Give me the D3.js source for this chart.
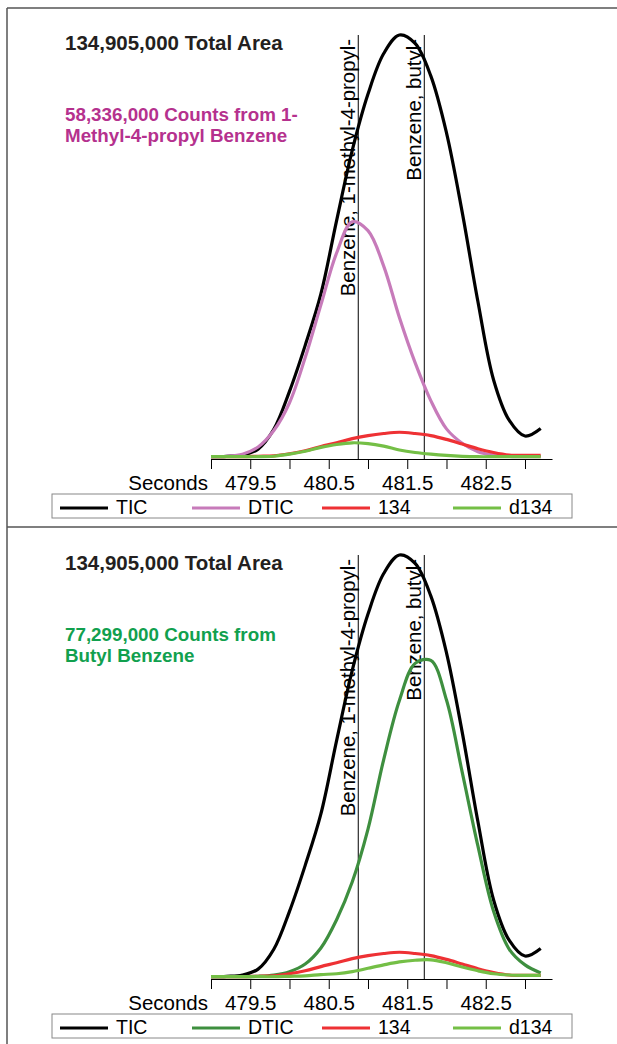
<!DOCTYPE html>
<html>
<head>
<meta charset="utf-8">
<script src="https://cdn.jsdelivr.net/npm/d3@7"></script>
<style>
  body { margin: 0; background: #fff; }
  text { font-family: "Liberation Sans", Arial, sans-serif; }
</style>
</head>
<body>
<script>
// retention time (seconds) of every sample
var times = [479.0, 479.2, 479.4, 479.6, 479.8, 480.0, 480.2, 480.4, 480.6, 480.8, 481.0,
             481.2, 481.4, 481.6, 481.8, 482.0, 482.2, 482.4, 482.6, 482.8, 483.0, 483.2];

// intensities, % of TIC maximum
var tic = [0, 0.1, 0.4, 1.8, 6.5, 15.5, 26.4, 38.6, 56, 72.7, 86,
           95.6, 100, 98, 90.3, 76.8, 58, 36.8, 18.2, 8.6, 4.9, 6.7];
var dticPropyl = [0, 0.1, 0.6, 2.3, 6.2, 12.8, 23.5, 36, 48.3, 55.7, 53.6,
                  45.2, 33, 22.3, 13.3, 6.6, 3.2, 1.2, 0.4, 0.1, 0, 0];
var dticButyl = [0, 0, 0, 0.1, 0.4, 1.2, 3.0, 6.8, 13.5, 22.5, 35,
                 51.5, 65.5, 74.3, 75, 65.6, 48.5, 31, 15.5, 6.5, 2.8, 0.9];
var ion134 = [0, 0, 0, 0.1, 0.2, 0.7, 1.4, 2.4, 3.3, 4.3, 5.0,
              5.5, 5.8, 5.5, 5.0, 4.1, 3.0, 1.9, 1.0, 0.4, 0.3, 0.3];
var d134Propyl = [0, 0, 0, 0, 0.1, 0.6, 1.3, 2.2, 2.9, 3.3, 3.1,
                  2.5, 1.6, 1.0, 0.6, 0.3, 0.1, 0, 0, 0, 0, 0];
var d134Butyl = [0, 0, 0, 0, 0, 0.1, 0.2, 0.5, 0.7, 1.2, 2.0,
                 2.8, 3.5, 3.9, 4.0, 3.3, 2.3, 1.4, 0.7, 0.4, 0.3, 0.3];

// peak markers
var peakNames = ["Benzene, 1-methyl-4-propyl-", "Benzene, butyl-"];
var peakTimes = [480.876, 481.717];

var tickValues = [479.0, 479.5, 480.0, 480.5, 481.0, 481.5, 482.0, 482.5, 483.0];
var legendNames = ["TIC", "DTIC", "134", "d134"];

var totalLabel = "134,905,000 Total Area";
var panels = [
  { note: ["58,336,000 Counts from 1-", "Methyl-4-propyl Benzene"], noteColor: "#b5318e",
    dtic: dticPropyl, d134: d134Propyl, dticColor: "#c77bba" },
  { note: ["77,299,000 Counts from", "Butyl Benzene"], noteColor: "#11a04e",
    dtic: dticButyl, d134: d134Butyl, dticColor: "#3e8f3f" }
];

var w = 617, h = 1044;
var svg = d3.select("body").append("svg")
  .attr("width", w)
  .attr("height", h);

var x = d3.scaleLinear().domain([479, 483.344]).range([211, 552]);

// frame lines
svg.append("line").attr("x1", 7).attr("x2", w).attr("y1", 8).attr("y2", 8)
  .attr("stroke", "#555").attr("stroke-width", 1.5);
svg.append("line").attr("x1", 7).attr("x2", 7).attr("y1", 8).attr("y2", h)
  .attr("stroke", "#555").attr("stroke-width", 1.5);
svg.append("line").attr("x1", 7).attr("x2", w).attr("y1", 527).attr("y2", 527)
  .attr("stroke", "#555").attr("stroke-width", 1.5);

panels.forEach(function(p, k) {
  var off = k * 520;
  var g = svg.append("g");

  var y = d3.scaleLinear().domain([0, 100]).range([456.7 + off, 35 + off]);

  g.append("text")
    .attr("x", 65).attr("y", 50 + off)
    .attr("font-size", 20.5).attr("font-weight", "bold").attr("fill", "#231f20")
    .text(totalLabel);

  p.note.forEach(function(s, i) {
    g.append("text")
      .attr("x", 65).attr("y", 121 + off + i * 21)
      .attr("font-size", 18.8).attr("font-weight", "bold").attr("fill", p.noteColor)
      .text(s);
  });

  // peak lines and names
  peakTimes.forEach(function(t, i) {
    g.append("line")
      .attr("x1", x(t)).attr("x2", x(t))
      .attr("y1", 35 + off).attr("y2", 459 + off)
      .attr("stroke", "#000").attr("stroke-width", 1);
    g.append("text")
      .attr("transform", "translate(" + (x(t) - 3.5) + "," + (39 + off) + ") rotate(-90)")
      .attr("text-anchor", "end")
      .attr("font-size", 20.4)
      .attr("fill", "#000")
      .text(peakNames[i]);
  });

  var series = [
    { v: tic, c: "#000" },
    { v: p.dtic, c: p.dticColor },
    { v: ion134, c: "#ee3134" },
    { v: p.d134, c: "#74bf46" }
  ];

  var line = d3.line()
    .x(function(d, i) { return x(times[i]); })
    .y(function(d) { return y(d); })
    .curve(d3.curveCatmullRom.alpha(0.5));

  series.forEach(function(s) {
    g.append("path")
      .attr("d", line(s.v))
      .attr("fill", "none")
      .attr("stroke", s.c)
      .attr("stroke-width", 3.2)
      .attr("stroke-linejoin", "round");
  });

  // x axis
  var xAxis = d3.axisBottom(x)
    .tickValues(tickValues)
    .tickSizeInner(10)
    .tickSizeOuter(0)
    .tickFormat(function(d) { return (d * 2) % 2 === 1 ? d.toFixed(1) : ""; });

  var ax = g.append("g")
    .attr("transform", "translate(0," + (459 + off) + ")")
    .call(xAxis);
  ax.select(".domain").attr("stroke", "#000");
  ax.selectAll(".tick line").attr("stroke", "#000");
  ax.selectAll(".tick text")
    .attr("font-size", 20.5)
    .attr("font-family", "Liberation Sans, Arial, sans-serif")
    .attr("fill", "#000")
    .attr("dy", null)
    .attr("y", 31);

  g.append("text")
    .attr("x", 208).attr("y", 490 + off)
    .attr("text-anchor", "end")
    .attr("font-size", 20.5)
    .attr("fill", "#000")
    .text("Seconds");

  // legend
  g.append("rect")
    .attr("x", 52).attr("y", 494 + off)
    .attr("width", 520).attr("height", 24)
    .attr("fill", "none").attr("stroke", "#888").attr("stroke-width", 1);

  var lx = [60, 192, 322, 453];
  series.forEach(function(s, i) {
    g.append("line")
      .attr("x1", lx[i]).attr("x2", lx[i] + 48)
      .attr("y1", 508 + off).attr("y2", 508 + off)
      .attr("stroke", s.c).attr("stroke-width", 3);
    g.append("text")
      .attr("x", lx[i] + 56).attr("y", 514 + off)
      .attr("font-size", 19.5)
      .attr("fill", "#000")
      .text(legendNames[i]);
  });
});
</script>
</body>
</html>
